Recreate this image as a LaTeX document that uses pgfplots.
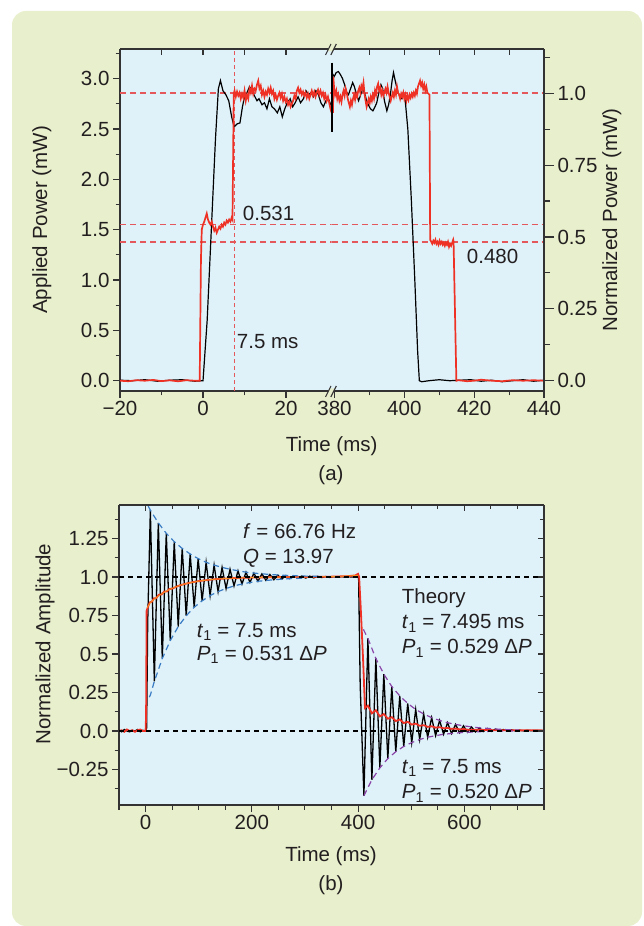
\documentclass[border=0pt]{standalone}
\usepackage{pgfplots}
\pgfplotsset{compat=1.18}
\usepackage{fontspec}
\setmainfont{Liberation Sans}
\definecolor{panelbg}{HTML}{E8EFCC}
\definecolor{axbg}{HTML}{DFF2FA}
\definecolor{txt}{HTML}{231F20}
\definecolor{axl}{HTML}{333333}
\definecolor{myred}{HTML}{EE3124}
\definecolor{dred}{HTML}{E4575B}
\definecolor{myblue}{HTML}{3A7CC4}
\definecolor{mypurple}{HTML}{8A44A8}
\definecolor{myorange}{HTML}{F7941D}
\newcommand{\fs}{\fontsize{20.5}{24}\selectfont}
\pgfplotsset{
  base/.style={scale only axis, axis line style={axl, line width=1.1pt},
    every tick/.style={axl, line width=1.1pt},
    major tick length=7pt, minor tick length=4.5pt, tick align=outside,
    tick label style={font=\fs, text=txt}},
}
\begin{document}
\begin{tikzpicture}[x=1pt,y=1pt]
\useasboundingbox (0,0) rectangle (644,926);
\fill[white] (0,0) rectangle (644,926);
\fill[panelbg, rounded corners=14pt] (12,0) rectangle (642,915);
\fill[axbg] (120,535) rectangle (544,877);
\fill[axbg] (119,121) rectangle (544,421);

% ---------------- Panel (a), left part ----------------
\begin{axis}[base, at={(120pt,535pt)}, anchor=south west, width=211.7pt, height=342pt,
  xmin=-20, xmax=31, ymin=-0.102, ymax=3.294,
  axis x line*=bottom, axis y line*=left,
  xtick={-20,0,20}, xticklabels={−20,0,20}, minor xtick={-10,10},
  ytick={0,0.5,1,1.5,2,2.5,3}, yticklabels={0.0,0.5,1.0,1.5,2.0,2.5,3.0},
  minor ytick={0.25,0.75,1.25,1.75,2.25,2.75,3.25}]
\addplot[color=dred, line width=1.6pt, dash pattern=on 6pt off 4pt] coordinates {(-20,2.855)(31,2.855)};
\addplot[color=dred, line width=1.6pt, dash pattern=on 6pt off 4pt] coordinates {(-20,1.553)(31,1.553)};
\addplot[color=dred, line width=1.6pt, dash pattern=on 6pt off 4pt] coordinates {(-20,1.38)(31,1.38)};
\addplot[color=dred, line width=1.1pt, dash pattern=on 4pt off 3pt] coordinates {(7.5,-0.102)(7.5,3.294)};
\addplot[black, line width=1.2pt] coordinates {
(-20,0.005)(-17,0.0)(-14,0.01)(-11,-0.005)(-8,0.005)(-5,0.01)(-2,-0.005)(0,0.0)
(1,0.6)(2,1.5)(3,2.4)(3.7,2.9)(4.2,2.98)(4.8,2.88)(5.5,2.84)(6.2,2.78)(6.9,2.62)
(7.5,2.52)(8.2,2.55)(8.9,2.56)(9.5,2.72)(10.0,2.82)(10.6,2.86)(11.2,2.92)(11.8,2.88)
(12.5,2.82)(13.0,2.78)(13.5,2.80)(14.2,2.74)(14.8,2.76)(15.4,2.70)(16.0,2.80)(16.6,2.72)
(17.2,2.70)(17.9,2.66)(18.5,2.72)(19.1,2.62)(19.7,2.70)(20.3,2.76)(21.0,2.80)(21.6,2.72)
(22.2,2.76)(22.9,2.82)(23.5,2.76)(24.2,2.80)(24.8,2.88)(25.4,2.84)(26.0,2.86)(26.6,2.82)
(27.2,2.88)(27.8,2.84)(28.4,2.76)(29.0,2.72)(29.6,2.78)(30.2,2.80)(30.8,2.74)(31,2.72)};
\addplot[myred, line width=1.7pt] coordinates {
(-20,0.0)(-18,-0.005)(-16,0.005)(-14,0.0)(-12,0.008)(-10,-0.004)(-8,0.004)(-6,-0.006)
(-4,0.005)(-2,0.0)(-0.8,0.0)(-0.5,1.2)(-0.3,1.50)(0,1.55)(0.3,1.58)(0.6,1.62)(0.9,1.66)
(1.2,1.60)(1.5,1.57)(1.8,1.55)(2.1,1.58)(2.4,1.53)(2.7,1.49)(3.0,1.52)(3.3,1.47)(3.6,1.50)
(3.9,1.53)(4.2,1.51)(4.5,1.55)(4.8,1.53)(5.1,1.57)(5.4,1.55)(5.7,1.59)(6.0,1.57)(6.3,1.60)
(6.6,1.58)(6.9,1.62)(7.1,1.60)(7.25,2.2)(7.4,2.85)
(7.6,2.88)(7.9,2.82)(8.2,2.87)(8.5,2.83)(8.8,2.86)(9.1,2.80)(9.4,2.85)(9.7,2.81)(10.0,2.88)
(10.3,2.78)(10.6,2.84)(10.9,2.80)(11.2,2.90)(11.5,2.86)(11.8,2.93)(12.1,2.85)(12.4,2.90)
(12.7,2.88)(13.0,2.94)(13.3,2.98)(13.6,2.90)(13.9,2.93)(14.2,2.84)(14.5,2.88)(14.8,2.82)
(15.1,2.87)(15.4,2.84)(15.7,2.90)(16.0,2.86)(16.3,2.91)(16.6,2.85)(16.9,2.88)(17.2,2.80)
(17.5,2.84)(17.8,2.79)(18.1,2.83)(18.4,2.86)(18.7,2.81)(19.0,2.85)(19.3,2.78)(19.6,2.82)
(19.9,2.77)(20.2,2.80)(20.5,2.74)(20.8,2.77)(21.1,2.72)(21.4,2.75)(21.7,2.78)(22.0,2.83)
(22.3,2.80)(22.6,2.88)(22.9,2.91)(23.2,2.86)(23.5,2.89)(23.8,2.84)(24.1,2.87)(24.4,2.83)
(24.7,2.86)(25.0,2.81)(25.3,2.85)(25.6,2.80)(25.9,2.84)(26.2,2.88)(26.5,2.83)(26.8,2.87)
(27.1,2.82)(27.4,2.86)(27.7,2.89)(28.0,2.84)(28.3,2.88)(28.6,2.83)(28.9,2.86)(29.2,2.80)
(29.5,2.84)(29.8,2.78)(30.1,2.82)(30.4,2.76)(30.7,2.70)(31.0,2.66)};
\end{axis}
\begin{axis}[base, at={(120pt,535pt)}, anchor=south west, width=211.7pt, height=342pt,
  xmin=-20, xmax=31, ymin=-0.102, ymax=3.294,
  axis x line*=top, axis y line=none, ytick=\empty, tick align=inside,
  major tick length=6pt, xtick={-20,-10,0,10,20}, xticklabels={}]
\end{axis}

% ---------------- Panel (a), right part ----------------
\begin{axis}[base, at={(331.7pt,535pt)}, anchor=south west, width=212.3pt, height=342pt,
  xmin=379.2, xmax=440, ymin=-0.102, ymax=3.294,
  axis x line*=bottom, axis y line=none, ytick=\empty,
  xtick={380,400,420,440}, xticklabels={380,400,420,440}, minor xtick={390,410,430}]
\addplot[color=dred, line width=1.6pt, dash pattern=on 6pt off 4pt] coordinates {(379.2,2.855)(440,2.855)};
\addplot[color=dred, line width=1.6pt, dash pattern=on 6pt off 4pt] coordinates {(379.2,1.553)(440,1.553)};
\addplot[color=dred, line width=1.6pt, dash pattern=on 6pt off 4pt] coordinates {(379.2,1.38)(440,1.38)};
\addplot[black, line width=1.2pt] coordinates {
(379.4,3.05)(379.9,3.02)(380.5,3.06)(381.1,3.07)(381.7,3.04)(382.3,3.0)(382.9,2.94)
(383.5,2.86)(384.0,2.84)(384.6,2.90)(385.2,2.96)(385.7,2.92)(386.3,2.84)(386.9,2.78)
(387.5,2.84)(388.1,2.90)(388.6,2.86)(389.2,2.78)(389.7,2.74)(390.3,2.70)(391.0,2.68)
(391.6,2.72)(392.1,2.76)(392.7,2.86)(393.3,2.94)(393.8,2.90)(394.3,2.78)(395.0,2.68)
(395.5,2.74)(396.0,2.84)(396.5,2.98)(396.9,3.06)(397.5,2.96)(398.2,2.86)(398.8,2.82)
(399.3,2.80)(399.8,2.84)(400.1,2.84)(401,2.5)(402,1.8)(403,1.0)(403.8,0.3)(404.3,0.0)
(405,-0.01)(407,0.0)(410,0.01)(413,0.0)(416,0.005)(419,0.01)(422,-0.005)(425,0.005)
(428,-0.01)(431,0.0)(434,0.01)(437,-0.005)(440,0.005)};
\addplot[myred, line width=1.7pt] coordinates {
(379.6,2.66)(379.65,3.02)(379.9,2.90)(380.2,2.84)(380.5,2.88)(380.8,2.80)(381.1,2.84)
(381.4,2.78)(381.7,2.82)(382.0,2.77)(382.3,2.84)(382.6,2.88)(382.9,2.83)(383.2,2.90)
(383.5,2.86)(383.8,2.80)(384.1,2.76)(384.4,2.72)(384.7,2.78)(385.0,2.74)(385.3,2.80)
(385.6,2.84)(385.9,2.79)(386.2,2.85)(386.5,2.82)(386.8,2.88)(387.1,2.91)(387.4,2.86)
(387.7,2.93)(388.0,2.90)(388.3,2.96)(388.6,2.85)(388.9,2.78)(389.2,2.72)(389.5,2.76)
(389.8,2.80)(390.1,2.76)(390.4,2.82)(390.7,2.78)(391.0,2.84)(391.3,2.80)(391.6,2.88)
(391.9,2.84)(392.2,2.92)(392.5,2.95)(392.8,2.88)(393.1,2.91)(393.4,2.84)(393.7,2.88)
(394.0,2.83)(394.3,2.87)(394.6,2.90)(394.9,2.86)(395.2,2.92)(395.5,2.86)(395.8,2.82)
(396.1,2.78)(396.4,2.82)(396.7,2.86)(397.0,2.82)(397.3,2.88)(397.6,2.84)(397.9,2.92)
(398.2,2.86)(398.5,2.84)(398.8,2.80)(399.1,2.85)(399.4,2.82)(399.7,2.86)(400.0,2.80)
(400.3,2.84)(400.6,2.78)(400.9,2.83)(401.2,2.79)(401.5,2.84)(401.8,2.81)(402.1,2.85)
(402.4,2.82)(402.7,2.86)(403.0,2.83)(403.3,2.88)(403.6,2.85)(403.9,2.92)(404.2,2.95)
(404.5,2.98)(404.8,2.93)(405.1,2.96)(405.4,2.90)(405.7,2.94)(406.0,2.88)(406.3,2.92)
(406.6,2.86)(406.9,2.85)(407.2,2.84)(407.4,1.40)(407.7,1.38)(408.0,1.36)(408.3,1.39)
(408.6,1.37)(408.9,1.40)(409.2,1.36)(409.5,1.38)(409.8,1.35)(410.1,1.39)(410.4,1.36)
(410.7,1.38)(411.0,1.35)(411.3,1.37)(411.6,1.34)(411.9,1.37)(412.2,1.35)(412.5,1.38)
(412.8,1.33)(413.1,1.36)(413.4,1.34)(413.7,1.37)(414.0,1.40)(414.1,1.38)(414.9,0.0)
(415.5,0.005)(418,-0.005)(420,0.0)(422,0.01)(425,0.0)(428,-0.005)(431,0.005)(434,0.0)
(437,0.005)(440,0.0)};
\end{axis}
\begin{axis}[base, at={(331.7pt,535pt)}, anchor=south west, width=212.3pt, height=342pt,
  xmin=379.2, xmax=440, ymin=-0.102, ymax=3.294,
  axis x line*=top, axis y line=none, ytick=\empty, tick align=inside,
  major tick length=6pt, xtick={390,400,410,420,430,440}, xticklabels={}]
\end{axis}
% right normalized axis
\begin{axis}[base, at={(331.7pt,535pt)}, anchor=south west, width=212.3pt, height=342pt,
  xmin=0, xmax=1, ymin=-0.0357, ymax=1.1538,
  axis y line*=right, axis x line=none, xtick=\empty,
  major tick length=10pt, minor tick length=6pt,
  ytick={0,0.25,0.5,0.75,1}, yticklabels={0.0,0.25,0.5,0.75,1.0},
  minor ytick={0.125,0.375,0.625,0.875,1.125}]
\end{axis}

% break marks (a)
\fill[panelbg] (327.3,874.5) -- (329.5,879.5) -- (334.8,879.5) -- (332.6,874.5) -- cycle;
\draw[axl, line width=1.1pt] (325.5,871) -- (331,882) (330.8,871) -- (336.3,882);
\fill[panelbg] (327.3,532.5) -- (329.5,537.5) -- (334.8,537.5) -- (332.6,532.5) -- cycle;
\draw[axl, line width=1.1pt] (325.5,529) -- (331,540) (330.8,529) -- (336.3,540);
\draw[black, line width=2.2pt] (331.7,863.3) -- (331.7,794.3);

% texts (a)
\node[anchor=base west, font=\fs, text=txt, inner sep=0] at (242.7,705.4) {0.531};
\node[anchor=base west, font=\fs, text=txt, inner sep=0] at (466.7,662.7) {0.480};
\node[anchor=base west, font=\fs, text=txt, inner sep=0] at (236.7,577) {7.5 ms};
\node[anchor=base, font=\fs, text=txt, inner sep=0] at (331.7,474.6) {Time (ms)};
\node[anchor=base, font=\fs, text=txt, inner sep=0] at (331,445) {(a)};
\node[rotate=90, font=\fs, text=txt, inner sep=0] at (41.7,706) {Applied Power (mW)};
\node[rotate=90, font=\fs, text=txt, inner sep=0] at (611.7,706) {Normalized Power (mW)};

% ---------------- Panel (b) ----------------
\begin{axis}[base, at={(119pt,121pt)}, anchor=south west, width=425pt, height=300pt,
  xmin=-50, xmax=750, ymin=-0.48, ymax=1.467,
  axis x line*=bottom, axis y line*=left,
  xtick={0,200,400,600}, xticklabels={0,200,400,600},
  minor xtick={-50,50,100,150,250,300,350,450,500,550,650,700,750},
  ytick={-0.25,0,0.25,0.5,0.75,1,1.25}, yticklabels={−0.25,0.0,0.25,0.5,0.75,1.0,1.25},
  minor ytick={-0.375,-0.125,0.125,0.375,0.625,0.875,1.125,1.375}]
\addplot[black, line width=1.3pt] coordinates {
(-50,0.005)(-45,-0.005)(-40,0.01)(-35,0.0)(-30,-0.005)(-25,0.005)(-20,0.0)(-15,0.01)
(-10,-0.005)(-5,0.005)(0,0.0)(2,0.02)(4,0.7)(9,1.433)(16.5,0.322)(24,1.351)(31.5,0.471)
(39,1.283)(46.5,0.587)(54,1.229)(61.5,0.678)(69,1.185)(76.5,0.748)(84,1.149)(91.5,0.803)
(99,1.119)(106.5,0.845)(114,1.095)(121.5,0.879)(129,1.077)(136.5,0.905)(144,1.062)
(151.5,0.925)(159,1.050)(166.5,0.942)(174,1.040)(181.5,0.954)(189,1.031)(196.5,0.964)
(204,1.025)(211.5,0.972)(219,1.020)(226.5,0.978)(234,1.016)(241.5,0.982)(249,1.012)
(256.5,0.986)(264,1.010)(271.5,0.989)(279,1.008)(286.5,0.991)(294,1.006)(301.5,0.993)
(309,1.005)(316.5,0.994)(324,1.004)(331.5,0.996)(339,1.003)(346.5,0.997)(354,1.002)
(361.5,0.998)(369,1.002)(376.5,0.998)(384,1.001)(391.5,0.999)(399,1.001)(401,1.0)
(404,0.3)(411,-0.42)(418.5,0.601)(426,-0.316)(433.5,0.471)(441,-0.239)(448.5,0.369)
(456,-0.179)(463.5,0.289)(471,-0.134)(478.5,0.228)(486,-0.100)(493.5,0.179)(501,-0.075)
(508.5,0.140)(516,-0.055)(523.5,0.111)(531,-0.040)(538.5,0.087)(546,-0.030)(553.5,0.069)
(561,-0.021)(568.5,0.054)(576,-0.016)(583.5,0.043)(591,-0.011)(598.5,0.034)(606,-0.008)
(613.5,0.027)(621,-0.006)(628.5,0.021)(636,-0.003)(643.5,0.017)(651,-0.002)(658.5,0.013)
(666,-0.001)(673.5,0.010)(681,0.000)(688.5,0.008)(696,0.001)(703.5,0.006)(711,0.001)
(718.5,0.005)(726,0.002)(733.5,0.004)(741,0.002)(750,0.003)};
\addplot[myred, line width=1.8pt] coordinates {
(-50,0.0)(-45,0.005)(-40,-0.005)(-35,0.01)(-30,0.0)(-25,0.005)(-20,-0.005)(-15,0.005)
(-10,0.01)(-5,0.0)(0,0.0)(1,0.1)(2,0.78)(5,0.81)(8,0.835)(12,0.84)(16,0.862)(20,0.862)
(25,0.885)(30,0.886)(35,0.905)(40,0.906)(45,0.922)(50,0.924)(60,0.940)(70,0.951)(80,0.960)
(90,0.967)(100,0.973)(120,0.982)(140,0.988)(160,0.992)(180,0.995)(200,0.996)(250,0.999)
(300,1.0)(350,1.002)(380,1.005)(395,1.01)(400,1.02)(402,1.0)(405,0.8)(409.5,0.46)(413,0.15)
(418.5,0.165)(426,0.115)(433.5,0.135)(441,0.095)(448.5,0.11)(456,0.08)(463.5,0.09)
(471,0.065)(478.5,0.075)(486,0.052)(493.5,0.06)(501,0.042)(508.5,0.048)(516,0.034)
(523.5,0.038)(531,0.027)(538.5,0.031)(546,0.022)(553.5,0.025)(561,0.018)(568.5,0.02)
(576,0.014)(583.5,0.016)(591,0.011)(598.5,0.013)(606,0.009)(620,0.009)(640,0.007)
(660,0.005)(680,0.006)(700,0.004)(720,0.005)(750,0.004)};
\addplot[myorange, line width=0.8pt] coordinates {
(3,0.80)(8,0.83)(15,0.852)(20,0.866)(30,0.890)(40,0.910)(50,0.926)(60,0.940)(70,0.951)
(80,0.960)(100,0.973)(120,0.982)(140,0.988)(160,0.992)(200,0.996)(250,0.999)(300,1.0)
(350,1.002)(400,1.01)};
\addplot[myblue, line width=1.2pt, dash pattern=on 6pt off 4pt] coordinates {
(5,1.46)(9,1.433)(24,1.351)(39,1.283)(54,1.229)(69,1.185)(84,1.149)(99,1.119)(114,1.095)
(129,1.077)(144,1.062)(159,1.050)(174,1.04)(189,1.031)(204,1.025)(234,1.016)(264,1.010)
(294,1.006)(324,1.004)};
\addplot[myblue, line width=1.2pt, dash pattern=on 6pt off 4pt] coordinates {
(7,0.22)(9,0.233)(16.5,0.322)(31.5,0.471)(46.5,0.587)(61.5,0.678)(76.5,0.748)(91.5,0.803)
(106.5,0.845)(121.5,0.879)(136.5,0.905)(151.5,0.925)(166.5,0.942)(181.5,0.954)(196.5,0.964)
(211.5,0.972)(241.5,0.982)(271.5,0.989)(301.5,0.993)};
\addplot[mypurple, line width=1.2pt, dash pattern=on 6pt off 4pt] coordinates {
(410,0.66)(418.5,0.601)(433.5,0.471)(448.5,0.369)(463.5,0.289)(478.5,0.228)(493.5,0.179)
(508.5,0.140)(523.5,0.111)(538.5,0.087)(553.5,0.069)(568.5,0.054)(583.5,0.043)(598.5,0.034)
(613.5,0.027)(628.5,0.021)(643.5,0.017)(673.5,0.010)(703.5,0.006)};
\addplot[mypurple, line width=1.2pt, dash pattern=on 6pt off 4pt] coordinates {
(411,-0.42)(426,-0.316)(441,-0.239)(456,-0.179)(471,-0.134)(486,-0.1)(501,-0.075)(516,-0.055)
(531,-0.04)(546,-0.03)(561,-0.021)(576,-0.016)(591,-0.011)(606,-0.008)(621,-0.006)
(636,-0.003)(666,-0.001)(696,0.001)};
\addplot[black, line width=1.2pt, dash pattern=on 5pt off 4pt] coordinates {(-50,1)(750,1)};
\addplot[black, line width=1.2pt, dash pattern=on 5pt off 4pt] coordinates {(-50,0)(750,0)};
\end{axis}
\begin{axis}[base, at={(119pt,121pt)}, anchor=south west, width=425pt, height=300pt,
  xmin=-50, xmax=750, ymin=-0.48, ymax=1.467,
  axis x line*=top, axis y line*=right, tick align=inside,
  major tick length=6pt, minor tick length=4pt,
  xtick={0,200,400,600}, xticklabels={},
  minor xtick={-50,50,100,150,250,300,350,450,500,550,650,700,750},
  ytick={-0.25,0,0.25,0.5,0.75,1,1.25}, yticklabels={},
  minor ytick={-0.375,-0.125,0.125,0.375,0.625,0.875,1.125,1.375}]
\end{axis}

% texts (b)
\node[anchor=base west, font=\fs, text=txt, inner sep=0] at (243,387) {\textit{f} = 66.76 Hz};
\node[anchor=base west, font=\fs, text=txt, inner sep=0] at (243,362) {\textit{Q} = 13.97};
\node[anchor=base west, font=\fs, text=txt, inner sep=0] at (196.7,288.7) {\textit{t}\textsubscript{1} = 7.5 ms};
\node[anchor=base west, font=\fs, text=txt, inner sep=0] at (196.7,265.4) {\textit{P}\textsubscript{1} = 0.531 Δ\textit{P}};
\node[anchor=base west, font=\fs, text=txt, inner sep=0] at (401.7,322) {Theory};
\node[anchor=base west, font=\fs, text=txt, inner sep=0] at (401.7,297) {\textit{t}\textsubscript{1} = 7.495 ms};
\node[anchor=base west, font=\fs, text=txt, inner sep=0] at (401.7,272) {\textit{P}\textsubscript{1} = 0.529 Δ\textit{P}};
\node[anchor=base west, font=\fs, text=txt, inner sep=0] at (401.7,152.7) {\textit{t}\textsubscript{1} = 7.5 ms};
\node[anchor=base west, font=\fs, text=txt, inner sep=0] at (401.7,127) {\textit{P}\textsubscript{1} = 0.520 Δ\textit{P}};
\node[anchor=base, font=\fs, text=txt, inner sep=0] at (331,64.6) {Time (ms)};
\node[anchor=base, font=\fs, text=txt, inner sep=0] at (331,35) {(b)};
\node[rotate=90, font=\fs, text=txt, inner sep=0] at (45,282) {Normalized Amplitude};
\end{tikzpicture}
\end{document}
